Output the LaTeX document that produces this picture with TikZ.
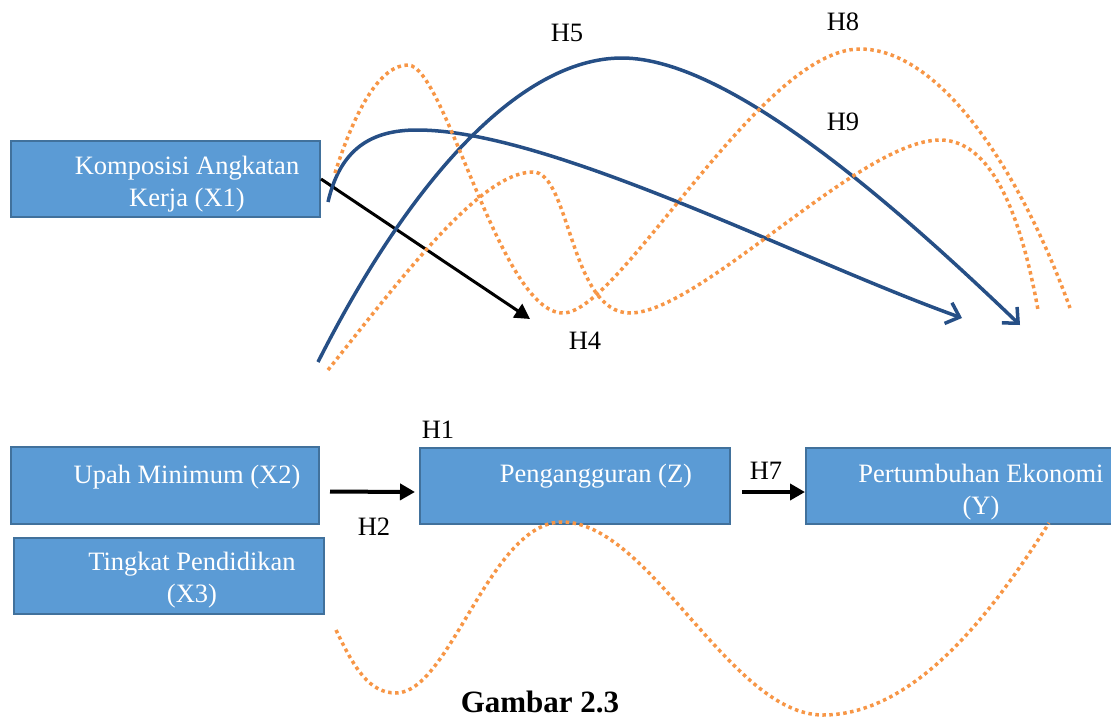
\documentclass[tikz,border=0pt]{standalone}
\usepackage{fontspec}
\setmainfont{Liberation Serif}
\usetikzlibrary{arrows.meta}
\definecolor{boxfill}{HTML}{5B9BD5}
\definecolor{boxedge}{HTML}{41719C}
\definecolor{curveblue}{HTML}{264F86}
\definecolor{curveorange}{HTML}{F79646}

\begin{document}
\begin{tikzpicture}[x=1pt, y=-1pt]

	\tikzstyle{variable_node}=[rectangle, fill=boxfill, draw=boxedge, line width=2pt, anchor=north west, inner sep=0pt]
	\tikzstyle{variable_text}=[text=white, align=center, inner sep=0pt, font=\fontsize{26.5}{32}\selectfont]
	\tikzstyle{hypothesis_label}=[inner sep=0pt, font=\fontsize{26.5}{32}\selectfont]
	\tikzstyle{direct_arrow}=[draw=black, line width=4pt, -{Triangle[length=15pt,width=16pt]}]
	\tikzstyle{effect_curve}=[draw=curveblue, line width=3.5pt, -{Straight Barb[length=12pt,width=22pt]}]
	\tikzstyle{mediation_curve}=[draw=curveorange, line width=3.5pt, dash pattern=on 3.5pt off 3.5pt]

	\useasboundingbox (0,0) rectangle (1111,718);

	\node[variable_node, minimum width=309pt, minimum height=76pt] at (10,140) (komposisi) {};
	\node[variable_node, minimum width=308pt, minimum height=77pt] at (10,446) (upah) {};
	\node[variable_node, minimum width=310pt, minimum height=76pt] at (13,537) (pendidikan) {};
	\node[variable_node, minimum width=310pt, minimum height=76pt] at (419,447) (pengangguran) {};
	\node[variable_node, minimum width=312pt, minimum height=76pt] at (805,447) (pertumbuhan) {};

	\node[variable_text] at (187,184) (komposisi_text) {Komposisi Angkatan\\Kerja (X1)};
	\node[variable_text] at (187,477) (upah_text) {Upah Minimum (X2)};
	\node[variable_text] at (192,580) (pendidikan_text) {Tingkat Pendidikan\\(X3)};
	\node[variable_text] at (596,476) (pengangguran_text) {Pengangguran (Z)};
	\node[variable_text] at (981,492) (pertumbuhan_text) {Pertumbuhan Ekonomi\\(Y)};

	\coordinate (h4_tip) at (530,319);
	\coordinate (h5_start) at (318,362);
	\coordinate (h5_tip) at (1020,325);
	\coordinate (h6_start) at (328,202);
	\coordinate (h6_tip) at (962,318);
	\coordinate (h8_start) at (335,173);
	\coordinate (h8_end) at (1070,308);
	\coordinate (h9_start) at (328,370);
	\coordinate (h9_end) at (1038,310);
	\coordinate (h3_start) at (336,630);
	\coordinate (h3_end) at (1049,523);

	\draw[direct_arrow, line width=3pt] (komposisi.east) -- (h4_tip);
	\draw[direct_arrow, shorten <=10pt, shorten >=4pt] ([yshift=-6pt]upah.east) -- ([yshift=-6pt]pengangguran.west);
	\draw[direct_arrow, shorten <=11pt] ([yshift=-6pt]pengangguran.east) -- ([yshift=-6pt]pertumbuhan.west);

	\draw[effect_curve] (h5_start) .. controls (410,180) and (520,58) .. (622,58)
		.. controls (730,58) and (900,210) .. (h5_tip);
	\draw[effect_curve] (h6_start) .. controls (340,150) and (370,130) .. (417,130)
		.. controls (550,130) and (800,260) .. (h6_tip);

	\draw[mediation_curve] (h8_start) .. controls (355,110) and (380,65) .. (408,65)
		.. controls (445,65) and (500,313) .. (563,313)
		.. controls (620,313) and (760,49) .. (860,49)
		.. controls (940,49) and (1020,170) .. (h8_end);
	\draw[mediation_curve] (h9_start) .. controls (400,280) and (480,172) .. (533,172)
		.. controls (570,172) and (570,313) .. (630,313)
		.. controls (700,313) and (860,140) .. (940,140)
		.. controls (990,140) and (1020,210) .. (h9_end);
	\draw[mediation_curve] (h3_start) .. controls (355,670) and (370,693) .. (396,693)
		.. controls (450,693) and (490,522) .. (562,522)
		.. controls (650,522) and (730,715) .. (823,715)
		.. controls (920,715) and (1000,600) .. (h3_end);

	\node[hypothesis_label] at (567,33) (h5) {H5};
	\node[hypothesis_label] at (843,22) (h8) {H8};
	\node[hypothesis_label] at (843,122) (h9) {H9};
	\node[hypothesis_label] at (585,341) (h4) {H4};
	\node[hypothesis_label] at (438,430) (h1) {H1};
	\node[hypothesis_label] at (374,527) (h2) {H2};
	\node[hypothesis_label] at (766,471) (h7) {H7};
	\node[hypothesis_label, font=\fontsize{31}{36}\selectfont\bfseries] at (540,702) (caption) {Gambar 2.3};
\end{tikzpicture}
\end{document}
